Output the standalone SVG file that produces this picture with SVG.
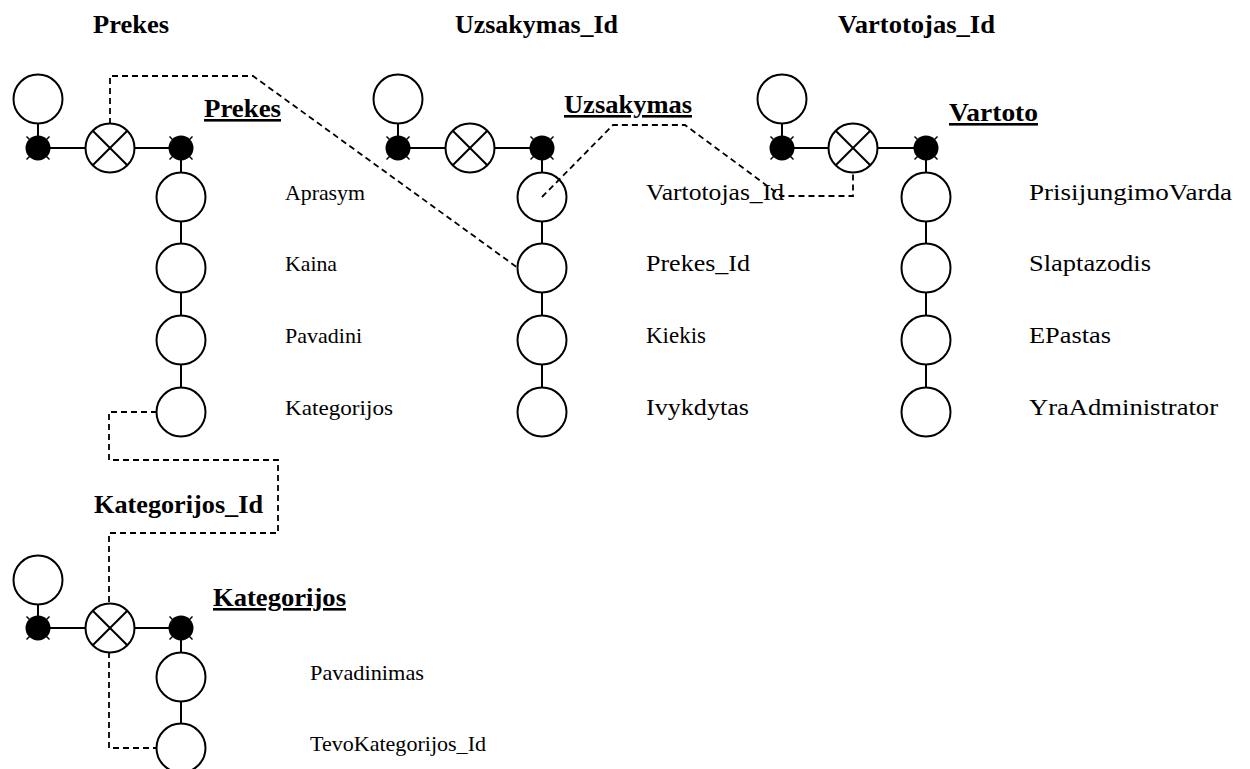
<svg xmlns="http://www.w3.org/2000/svg" xmlns:xlink="http://www.w3.org/1999/xlink" width="1250" height="769" viewBox="0 0 1250 769">
  <style>
    .ln { stroke: #000; stroke-width: 2; fill: none; }
    .dash { stroke: #000; stroke-width: 1.8; fill: none; stroke-dasharray: 6 4; }
    .attr { fill: #fff; stroke: #000; stroke-width: 2; }
    .lbl { font-family: "Liberation Serif", "Times New Roman", serif; font-size: 23px; fill: #000; }
    .sm { font-size: 22px; }
    .ttl { font-family: "Liberation Serif", "Times New Roman", serif; font-size: 26px; font-weight: bold; fill: #000; }
    .ent { font-family: "Liberation Serif", "Times New Roman", serif; font-size: 26px; font-weight: bold; fill: #000; text-decoration: underline; }
  </style>
  <defs>
    <!-- plain attribute circle -->
    <g id="circ"><circle r="24.5" class="attr"/></g>
    <!-- filled key dot with small diagonal ticks -->
    <g id="dot">
      <line x1="-11.5" y1="-11.5" x2="11.5" y2="11.5" stroke="#000" stroke-width="1.4"/>
      <line x1="11.5" y1="-11.5" x2="-11.5" y2="11.5" stroke="#000" stroke-width="1.4"/>
      <circle r="12.5" fill="#000"/>
    </g>
    <!-- crossed circle -->
    <g id="xcirc">
      <circle r="24.5" class="attr"/>
      <line x1="-17.3" y1="-17.3" x2="17.3" y2="17.3" class="ln"/>
      <line x1="17.3" y1="-17.3" x2="-17.3" y2="17.3" class="ln"/>
    </g>
  </defs>

  <rect width="1250" height="769" fill="#fff"/>

  <!-- relation titles -->
  <g id="titles">
    <text class="ttl" x="93" y="33" textLength="76" lengthAdjust="spacingAndGlyphs">Prekes</text>
    <text class="ttl" x="455" y="33" textLength="163" lengthAdjust="spacingAndGlyphs">Uzsakymas_Id</text>
    <text class="ttl" x="838" y="33" textLength="157" lengthAdjust="spacingAndGlyphs">Vartotojas_Id</text>
    <text class="ttl" x="94" y="513" textLength="169" lengthAdjust="spacingAndGlyphs">Kategorijos_Id</text>
  </g>

  <!-- entity Prekes -->
  <g id="prekes">
    <g id="prekes-opt"><use xlink:href="#circ" x="38" y="99"/></g>
    <g id="prekes-key-l"><use xlink:href="#dot" x="38" y="148"/></g>
    <g id="prekes-x"><use xlink:href="#xcirc" x="110" y="148"/></g>
    <g id="prekes-key-r"><use xlink:href="#dot" x="181" y="148"/></g>
    <text class="ent" x="204" y="117" textLength="77" lengthAdjust="spacingAndGlyphs">Prekes</text>
    <g id="prekes-aprasym"><use xlink:href="#circ" x="181" y="197"/><text class="lbl sm" x="285" y="200" textLength="80" lengthAdjust="spacingAndGlyphs">Aprasym</text></g>
    <g id="prekes-kaina"><use xlink:href="#circ" x="181" y="268"/><text class="lbl sm" x="285" y="271" textLength="52" lengthAdjust="spacingAndGlyphs">Kaina</text></g>
    <g id="prekes-pavadini"><use xlink:href="#circ" x="181" y="340"/><text class="lbl sm" x="285" y="343" textLength="77" lengthAdjust="spacingAndGlyphs">Pavadini</text></g>
    <g id="prekes-kategorijos"><use xlink:href="#circ" x="181" y="412"/><text class="lbl sm" x="285" y="415" textLength="108" lengthAdjust="spacingAndGlyphs">Kategorijos</text></g>
  </g>

  <!-- entity Uzsakymas -->
  <g id="uzsakymas">
    <g id="uzs-opt"><use xlink:href="#circ" x="398" y="99"/></g>
    <g id="uzs-key-l"><use xlink:href="#dot" x="398" y="148"/></g>
    <g id="uzs-x"><use xlink:href="#xcirc" x="470" y="148"/></g>
    <g id="uzs-key-r"><use xlink:href="#dot" x="542" y="148"/></g>
    <text class="ent" x="564" y="113" textLength="128" lengthAdjust="spacingAndGlyphs">Uzsakymas</text>
    <g id="uzs-vartotojas"><use xlink:href="#circ" x="542" y="197"/><text class="lbl" x="646" y="200" textLength="138" lengthAdjust="spacingAndGlyphs">Vartotojas_Id</text></g>
    <g id="uzs-prekes"><use xlink:href="#circ" x="542" y="268"/><text class="lbl" x="646" y="271" textLength="104" lengthAdjust="spacingAndGlyphs">Prekes_Id</text></g>
    <g id="uzs-kiekis"><use xlink:href="#circ" x="542" y="340"/><text class="lbl" x="646" y="343" textLength="60" lengthAdjust="spacingAndGlyphs">Kiekis</text></g>
    <g id="uzs-ivykdytas"><use xlink:href="#circ" x="542" y="412"/><text class="lbl" x="646" y="415" textLength="103" lengthAdjust="spacingAndGlyphs">Ivykdytas</text></g>
  </g>

  <!-- entity Vartoto -->
  <g id="vartoto">
    <g id="var-opt"><use xlink:href="#circ" x="782" y="99"/></g>
    <g id="var-key-l"><use xlink:href="#dot" x="782" y="148"/></g>
    <g id="var-x"><use xlink:href="#xcirc" x="853" y="148"/></g>
    <g id="var-key-r"><use xlink:href="#dot" x="926" y="148"/></g>
    <text class="ent" x="949" y="121" textLength="89" lengthAdjust="spacingAndGlyphs">Vartoto</text>
    <g id="var-prisijungimo"><use xlink:href="#circ" x="926" y="197"/><text class="lbl" x="1029" y="200" textLength="203" lengthAdjust="spacingAndGlyphs">PrisijungimoVarda</text></g>
    <g id="var-slaptazodis"><use xlink:href="#circ" x="926" y="268"/><text class="lbl" x="1029" y="271" textLength="122" lengthAdjust="spacingAndGlyphs">Slaptazodis</text></g>
    <g id="var-epastas"><use xlink:href="#circ" x="926" y="340"/><text class="lbl" x="1029" y="343" textLength="82" lengthAdjust="spacingAndGlyphs">EPastas</text></g>
    <g id="var-admin"><use xlink:href="#circ" x="926" y="412"/><text class="lbl" x="1029" y="415" textLength="189" lengthAdjust="spacingAndGlyphs">YraAdministrator</text></g>
  </g>

  <!-- entity Kategorijos -->
  <g id="kategorijos">
    <g id="kat-opt"><use xlink:href="#circ" x="38" y="580"/></g>
    <g id="kat-key-l"><use xlink:href="#dot" x="38" y="628"/></g>
    <g id="kat-x"><use xlink:href="#xcirc" x="110" y="628"/></g>
    <g id="kat-key-r"><use xlink:href="#dot" x="181" y="628"/></g>
    <text class="ent" x="213" y="606" textLength="133" lengthAdjust="spacingAndGlyphs">Kategorijos</text>
    <g id="kat-pavadinimas"><use xlink:href="#circ" x="181" y="677"/><text class="lbl sm" x="310" y="680" textLength="114" lengthAdjust="spacingAndGlyphs">Pavadinimas</text></g>
    <g id="kat-tevo"><use xlink:href="#circ" x="181" y="748"/><text class="lbl sm" x="310" y="751" textLength="176" lengthAdjust="spacingAndGlyphs">TevoKategorijos_Id</text></g>
  </g>

  <!-- connectors -->
  <g id="connectors">
    <!-- Prekes -->
    <line class="ln" x1="38" y1="124" x2="38" y2="136"/>
    <line class="ln" x1="50" y1="148" x2="86" y2="148"/>
    <line class="ln" x1="134" y1="148" x2="169" y2="148"/>
    <line class="ln" x1="181" y1="160" x2="181" y2="173"/>
    <line class="ln" x1="181" y1="221" x2="181" y2="244"/>
    <line class="ln" x1="181" y1="292" x2="181" y2="316"/>
    <line class="ln" x1="181" y1="364" x2="181" y2="388"/>
    <!-- Uzsakymas -->
    <line class="ln" x1="398" y1="124" x2="398" y2="136"/>
    <line class="ln" x1="410" y1="148" x2="446" y2="148"/>
    <line class="ln" x1="494" y1="148" x2="530" y2="148"/>
    <line class="ln" x1="542" y1="160" x2="542" y2="173"/>
    <line class="ln" x1="542" y1="221" x2="542" y2="244"/>
    <line class="ln" x1="542" y1="292" x2="542" y2="316"/>
    <line class="ln" x1="542" y1="364" x2="542" y2="388"/>
    <!-- Vartoto -->
    <line class="ln" x1="782" y1="124" x2="782" y2="136"/>
    <line class="ln" x1="794" y1="148" x2="829" y2="148"/>
    <line class="ln" x1="877" y1="148" x2="914" y2="148"/>
    <line class="ln" x1="926" y1="160" x2="926" y2="173"/>
    <line class="ln" x1="926" y1="221" x2="926" y2="244"/>
    <line class="ln" x1="926" y1="292" x2="926" y2="316"/>
    <line class="ln" x1="926" y1="364" x2="926" y2="388"/>
    <!-- Kategorijos -->
    <line class="ln" x1="38" y1="604" x2="38" y2="616"/>
    <line class="ln" x1="50" y1="628" x2="86" y2="628"/>
    <line class="ln" x1="134" y1="628" x2="169" y2="628"/>
    <line class="ln" x1="181" y1="640" x2="181" y2="653"/>
    <line class="ln" x1="181" y1="701" x2="181" y2="724"/>

    <!-- foreign key references -->
    <polyline class="dash" points="110,124 110,76 253,76 518,268"/>
    <polyline class="dash" points="542,197 613,125 685,125 781,196 853,196 853,173"/>
    <polyline class="dash" points="157,412 109,412 109,460 278,460 278,533 109,533 109,604"/>
    <polyline class="dash" points="109,652 109,748 157,748"/>
  </g>
</svg>
